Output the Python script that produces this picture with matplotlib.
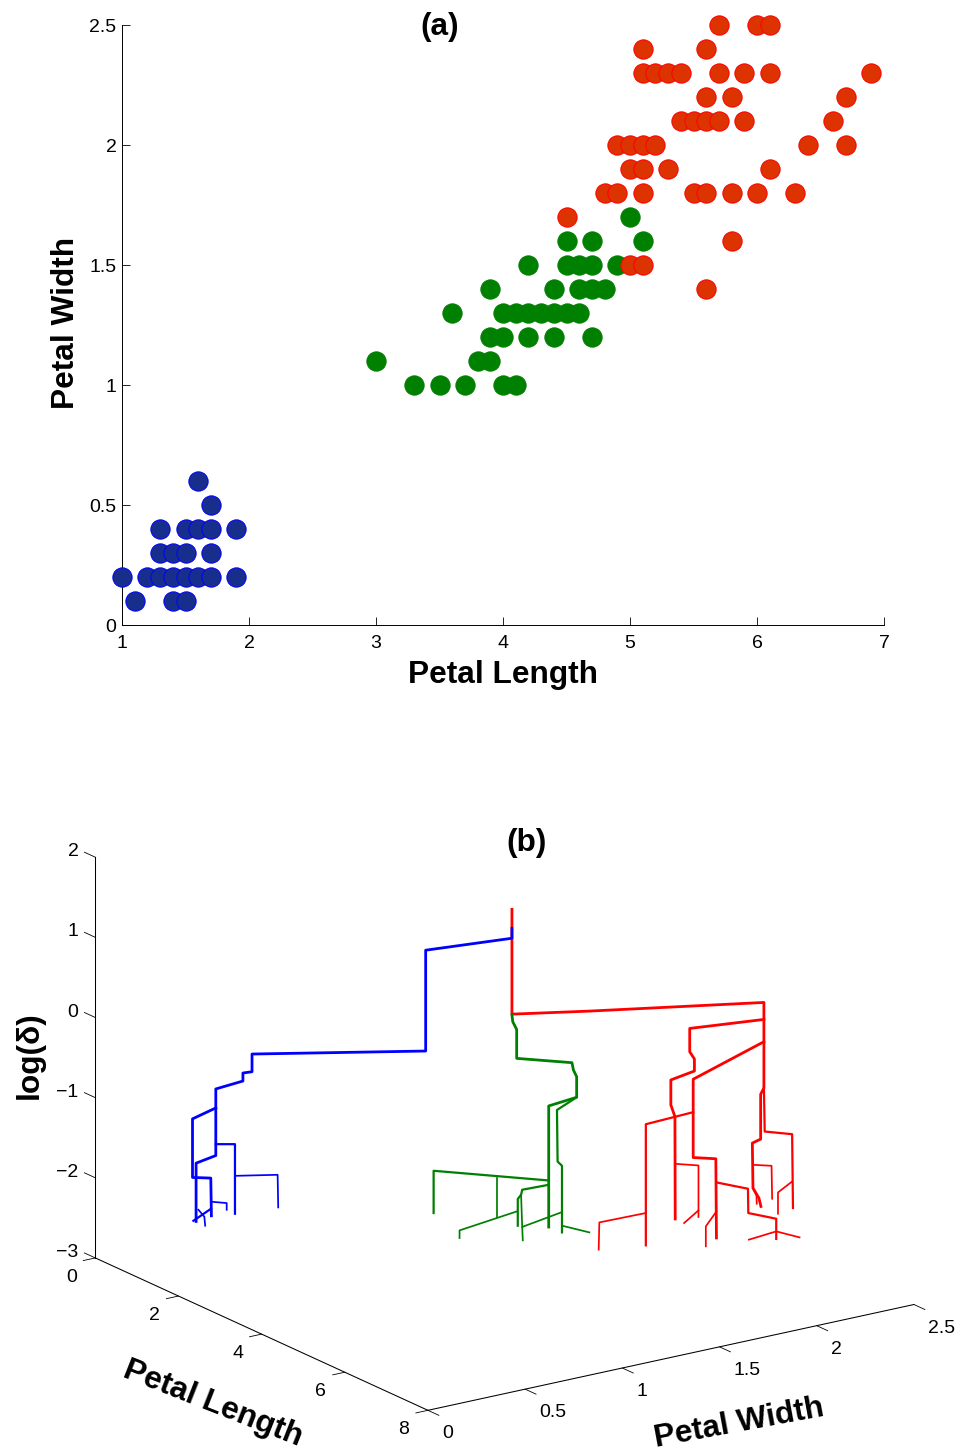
import matplotlib
matplotlib.use('Agg')
import matplotlib.pyplot as plt
from matplotlib.transforms import Affine2D

plt.rcParams['font.family'] = ['Liberation Sans', 'DejaVu Sans']

# ---- panel (a): petal length / width per class
setosa_len = [1.6,1.7,1.3,1.5,1.6,1.7,1.9,1.3,1.4,1.5,1.7,1.0,1.2,1.3,1.4,1.5,1.6,1.7,1.9,1.1,1.4,1.5]
setosa_wid = [.6,.5,.4,.4,.4,.4,.4,.3,.3,.3,.3,.2,.2,.2,.2,.2,.2,.2,.2,.1,.1,.1]
vers_len = [3.3,3.5,3.7,4.0,4.1,3.0,3.8,3.9,3.9,4.0,4.2,4.4,4.7,3.6,4.0,4.1,4.2,4.3,4.4,4.5,4.6,3.9,4.4,4.6,4.7,4.8,4.2,4.5,4.6,4.7,4.9,4.5,4.7,5.1,5.0]
vers_wid = [1,1,1,1,1,1.1,1.1,1.1,1.2,1.2,1.2,1.2,1.2,1.3,1.3,1.3,1.3,1.3,1.3,1.3,1.3,1.4,1.4,1.4,1.4,1.4,1.5,1.5,1.5,1.5,1.5,1.6,1.6,1.6,1.7]
virg_len = [5.6,5.0,5.1,5.8,4.5,4.8,4.9,5.1,5.5,5.6,5.8,6.0,6.3,5.0,5.1,5.3,6.1,4.9,5.0,5.1,5.2,6.4,6.7,5.4,5.5,5.6,5.7,5.9,6.6,5.6,5.8,6.7,5.1,5.2,5.3,5.4,5.7,5.9,6.1,6.9,5.1,5.6,5.7,6.0,6.1]
virg_wid = [1.4,1.5,1.5,1.6,1.7,1.8,1.8,1.8,1.8,1.8,1.8,1.8,1.8,1.9,1.9,1.9,1.9,2,2,2,2,2,2,2.1,2.1,2.1,2.1,2.1,2.1,2.2,2.2,2.2,2.3,2.3,2.3,2.3,2.3,2.3,2.3,2.3,2.4,2.4,2.5,2.5,2.5]

# ---- panel (b): dendrogram branches, each a list of (length, width, log delta)
R0 = [(3.984,1.291,1.615),(3.984,1.291,0.307),(4.615,1.554,0.356),(6.042,2.147,0.490),(6.042,2.147,-0.577),(6.015,2.136,-0.656),(6.015,2.136,-1.216),(5.946,2.108,-1.267),(5.952,2.110,-1.828),(6.001,2.130,-1.951),(6.017,2.137,-2.056)]
R1 = [(5.952,2.110,-1.828),(5.980,2.122,-1.923),(5.982,2.123,-2.023)]
R2 = [(6.042,2.147,-0.577),(6.047,2.150,-1.121),(6.272,2.243,-1.150),(6.278,2.246,-2.071)]
R3 = [(6.272,2.243,-1.740),(6.156,2.195,-1.879),(6.156,2.195,-2.144)]
R4 = [(5.952,2.110,-1.538),(6.104,2.173,-1.547),(6.109,2.175,-1.958)]
R5 = [(6.042,2.147,0.278),(5.436,1.895,0.155),(5.436,1.895,-0.136),(5.474,1.911,-0.226),(5.474,1.911,-0.376),(5.281,1.831,-0.491),(5.281,1.831,-0.803),(5.314,1.845,-0.948),(5.316,1.846,-2.225)]
R6 = [(5.316,1.846,-1.537),(5.506,1.925,-1.554),(5.506,1.925,-2.197)]
R7 = [(5.506,1.925,-2.115),(5.390,1.876,-2.274)]
R8 = [(6.042,2.147,0.000),(5.463,1.907,-0.479),(5.463,1.907,-1.456),(5.648,1.984,-1.468),(5.653,1.986,-2.456)]
R9 = [(5.653,1.986,-2.125),(5.566,1.950,-2.313),(5.566,1.950,-2.562)]
R10 = [(5.653,1.986,-1.763),(5.911,2.093,-1.837),(5.914,2.094,-2.140),(6.142,2.189,-2.207),(6.142,2.189,-2.459)]
R11 = [(5.919,2.096,-2.472),(6.142,2.189,-2.365),(6.333,2.268,-2.436)]
R12 = [(5.463,1.907,-0.890),(5.077,1.746,-1.047),(5.077,1.746,-2.558)]
R13 = [(5.077,1.746,-2.155),(4.697,1.588,-2.279),(4.691,1.586,-2.619)]

B0 = [(3.984,1.291,1.378),(3.984,1.291,1.254),(3.279,0.998,1.092),(3.279,0.998,-0.166),(1.861,0.408,-0.229),(1.861,0.408,-0.450),(1.787,0.377,-0.467),(1.787,0.377,-0.567),(1.565,0.285,-0.670),(1.565,0.285,-1.501),(1.404,0.218,-1.599),(1.404,0.218,-2.326)]
B1 = [(1.565,0.285,-0.907),(1.374,0.206,-1.047),(1.374,0.206,-1.778),(1.524,0.268,-1.783),(1.529,0.270,-2.253)]
B2 = [(1.526,0.269,-2.165),(1.382,0.209,-2.318)]
B3 = [(1.526,0.269,-2.078),(1.654,0.322,-2.092),(1.654,0.322,-2.176)]
B4 = [(1.423,0.226,-2.180),(1.472,0.246,-2.266),(1.478,0.249,-2.378)]
B5 = [(1.565,0.285,-1.359),(1.722,0.350,-1.356),(1.722,0.350,-2.224)]
B6 = [(1.728,0.353,-1.751),(2.070,0.495,-1.732),(2.075,0.497,-2.139)]

G0 = [(3.984,1.291,0.295),(3.990,1.294,0.212),(4.023,1.307,0.117),(4.023,1.307,-0.244),(4.474,1.495,-0.290),(4.485,1.500,-0.381),(4.512,1.511,-0.464),(4.512,1.511,-0.721),(4.284,1.416,-0.833),(4.284,1.416,-2.344)]
G1 = [(4.512,1.511,-0.721),(4.352,1.444,-0.882),(4.357,1.446,-1.525),(4.393,1.461,-1.578),(4.393,1.461,-2.409)]
G2 = [(4.393,1.461,-2.325),(4.615,1.554,-2.405)]
G3 = [(4.385,1.458,-2.160),(4.067,1.326,-2.347),(4.072,1.328,-2.514)]
G4 = [(4.284,1.416,-1.817),(4.067,1.326,-1.883),(4.059,1.322,-1.945),(4.031,1.311,-1.999),(4.031,1.311,-2.332)]
G5 = [(4.059,1.322,-1.945),(4.067,1.326,-2.347)]
G6 = [(4.023,1.307,-2.154),(3.556,1.113,-2.399),(3.556,1.113,-2.494)]
G7 = [(4.284,1.416,-1.763),(3.344,1.025,-1.659),(3.344,1.025,-2.186)]
G8 = [(3.860,1.240,-1.741),(3.860,1.240,-2.227)]

THICK, MEDIUM, THIN = 2.0, 1.6, 1.25
branches = [
    (R13,'#FF0000',THIN),(R12,'#FF0000',MEDIUM),(R11,'#FF0000',THIN),(R10,'#FF0000',MEDIUM),(R9,'#FF0000',THIN),
    (R7,'#FF0000',THIN),(R6,'#FF0000',THIN),(R4,'#FF0000',THIN),(R3,'#FF0000',THIN),(R2,'#FF0000',MEDIUM),
    (R1,'#FF0000',THIN),(R8,'#FF0000',THICK),(R5,'#FF0000',THICK),(R0,'#FF0000',THICK),
    (B6,'#0000FF',THIN),(B5,'#0000FF',MEDIUM),(B4,'#0000FF',THIN),(B3,'#0000FF',THIN),(B2,'#0000FF',MEDIUM),
    (B1,'#0000FF',THICK),(B0,'#0000FF',THICK),
    (G8,'#008000',THIN),(G7,'#008000',MEDIUM),(G6,'#008000',THIN),(G5,'#008000',THIN),(G4,'#008000',MEDIUM),
    (G3,'#008000',THIN),(G2,'#008000',THIN),(G1,'#008000',MEDIUM),(G0,'#008000',THICK),
]

LABEL = dict(fontsize=22.8, fontweight='bold')
fig = plt.figure(figsize=(9.63, 14.5), dpi=100)

# ---- panel (a)
axa = fig.add_axes([122/963, 1-625/1450, 762/963, 600/1450])
marker = dict(s=193, linewidths=.72, clip_on=False, zorder=3)
axa.scatter(setosa_len, setosa_wid, c='#182E8C', edgecolors='#0000FF', **marker)
axa.scatter(vers_len, vers_wid, c='#008000', edgecolors='#008000', **marker)
axa.scatter(virg_len, virg_wid, c='#DD3300', edgecolors='#FF0000', **marker)
axa.set_xlim(1, 7)
axa.set_ylim(0, 2.5)
axa.set_xticks([1, 2, 3, 4, 5, 6, 7])
axa.set_yticks([0, .5, 1, 1.5, 2, 2.5], ['0', '0.5', '1', '1.5', '2', '2.5'])
axa.spines[['top', 'right']].set_visible(False)
axa.spines[['left', 'bottom']].set_linewidth(.7)
axa.tick_params(direction='in', length=5.5, width=.6, labelsize=14)
axa.tick_params(axis='y', pad=4)
axa.tick_params(axis='x', pad=7)
axa.set_xlabel('Petal Length', **LABEL)
axa.set_ylabel('Petal Width', **LABEL)
axa.xaxis.set_label_coords(.5, -(675-625)/600)
axa.yaxis.set_label_coords((66-122)/762, (625-323)/600)
axa.xaxis.label.set_va('center')
axa.yaxis.label.set_va('center')
axa.set_title('(a)', x=(440-122)/762, y=1.0, va='center', pad=-1.5, **LABEL)

# ---- panel (b)
S = 905.6
ax = fig.add_axes([39.6/963, -95.9/1450, S/963, S/1450], projection='3d', proj_type='ortho', computed_zorder=False)
ax.view_init(elev=18.41, azim=-34.58)
ax.set_box_aspect((587.2, 591.5, 423.2))
ax.patch.set_alpha(0)
ax.set_xlim(0, 8, view_margin=0)
ax.set_ylim(0, 2.5, view_margin=0)
ax.set_zlim(-3, 2, view_margin=0)
ax.set_xticks([0, 2, 4, 6, 8])
ax.set_yticks([0, .5, 1, 1.5, 2, 2.5], ['0', '0.5', '1', '1.5', '2', '2.5'])
ax.set_zticks([-3, -2, -1, 0, 1, 2], ['\u22123', '\u22122', '\u22121', '0', '1', '2'])
ax.grid(False)
for a in (ax.xaxis, ax.yaxis, ax.zaxis):
    a.set_pane_color((1, 1, 1, 0))
    a.pane.set_edgecolor('none')
    a.line.set_linewidth(.75)
    a._axinfo['tick']['linewidth'] = {True: .6, False: .6}
    a.set_rotate_label(False)
ax.zaxis.set_ticks_position('lower')
ax.zaxis.set_label_position('lower')
ax.zaxis._get_tickdir = lambda pos: 0
ax.xaxis._axinfo['tick'].update(inward_factor=.31, outward_factor=0)
ax.yaxis._axinfo['tick'].update(inward_factor=.41, outward_factor=0)
ax.zaxis._axinfo['tick'].update(inward_factor=0, outward_factor=.41)
ax.tick_params(axis='x', labelsize=14, pad=5)
ax.tick_params(axis='y', labelsize=14, pad=6.5)
ax.tick_params(axis='z', labelsize=14, pad=-1)
for t in ax.xaxis.get_major_ticks():
    t.label1.set(ha='right', va='center')
for t in ax.yaxis.get_major_ticks():
    t.label1.set(ha='left', va='center')
for t in ax.zaxis.get_major_ticks():
    t.label1.set(ha='right', va='baseline')
ax.set_xlabel('Petal Length', rotation=-21.5, labelpad=32, ha='center', va='center', **LABEL)
ax.set_ylabel('Petal Width', rotation=10.5, labelpad=30, ha='center', va='center', **LABEL)
ax.set_zlabel('log(\u03b4)', rotation=90, labelpad=20, ha='center', va='center', **LABEL)

def shift(label, dx, dy):
    label.get_transform = lambda: ax.transData + Affine2D().translate(dx, dy)

shift(ax.xaxis.label, 27, 9)
shift(ax.yaxis.label, 18, 17)
shift(ax.zaxis.label, 33, -3)

for pts, color, lw in branches:
    length, width, delta = zip(*pts)
    ax.plot(length, width, delta, color=color, lw=lw)

fig.text(527/963, 1-843/1450, '(b)', ha='center', va='center', **LABEL)
fig.savefig('out.png', dpi=100)
